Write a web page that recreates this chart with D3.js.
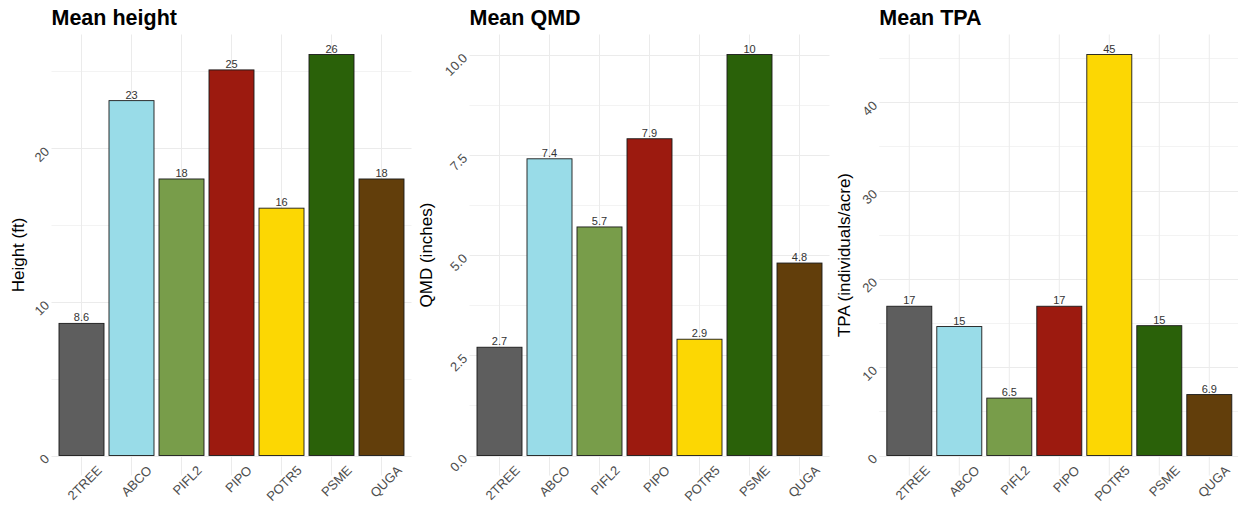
<!DOCTYPE html>
<html>
<head>
<meta charset="utf-8">
<script src="https://cdn.jsdelivr.net/npm/d3@7"></script>
<style>
  html, body { margin: 0; padding: 0; background: #fff; }
  svg { display: block; font-family: "Liberation Sans", Arial, sans-serif; }
</style>
</head>
<body>
<svg id="chart" width="1238" height="505"></svg>
<script>
// ---- data ----
const categories = ["2TREE", "ABCO", "PIFL2", "PIPO", "POTR5", "PSME", "QUGA"];
const barColors = ["#5e5e5e", "#99dce8", "#789d4a", "#9c1a0f", "#fcd703", "#2a6109", "#623e0b"];

const heightValues = [8.6, 23.1, 18.0, 25.1, 16.1, 26.1, 18.0];
const qmdValues = [2.7, 7.4, 5.7, 7.9, 2.9, 10.0, 4.8];
const tpaValues = [16.9, 14.6, 6.5, 16.9, 45.4, 14.7, 6.9];

const heightTicks = [0, 10, 20];
const heightTickLabels = ["0", "10", "20"];
const qmdTicks = [0, 2.5, 5, 7.5, 10];
const qmdTickLabels = ["0.0", "2.5", "5.0", "7.5", "10.0"];
const tpaTicks = [0, 10, 20, 30, 40];
const tpaTickLabels = ["0", "10", "20", "30", "40"];

const titles = ["Mean height", "Mean QMD", "Mean TPA"];
const yTitles = ["Height (ft)", "QMD (inches)", "TPA (individuals/acre)"];

// ---- layout ----
const panels = [
  { left: 51.5,  values: heightValues, ticks: heightTicks, tickLabels: heightTickLabels, title: titles[0], yTitle: yTitles[0], yTitleX: 24 },
  { left: 469.5, values: qmdValues,    ticks: qmdTicks,    tickLabels: qmdTickLabels,    title: titles[1], yTitle: yTitles[1], yTitleX: 432 },
  { left: 879.3, values: tpaValues,    ticks: tpaTicks,    tickLabels: tpaTickLabels,    title: titles[2], yTitle: yTitles[2], yTitleX: 850 }
];
const panelWidth = 360;
const plotTop = 34.5;
const zeroY = 455.5;

const svg = d3.select("#chart");
const fmt = d3.format(".2r");

panels.forEach(p => {
  const g = svg.append("g");
  const M = d3.max(p.values);
  const bottom = zeroY + (zeroY - plotTop) * 0.05 / 1.05;
  const y = d3.scaleLinear().domain([-0.05 * M, 1.05 * M]).range([bottom, plotTop]);
  const x = d3.scaleBand().domain(categories)
    .range([p.left, p.left + panelWidth]).paddingInner(0.1).paddingOuter(0.15);
  const [dmin, dmax] = y.domain();

  // minor gridlines
  const step = p.ticks[1] - p.ticks[0];
  const minors = p.ticks.map(t => t + step / 2).filter(v => v > dmin && v < dmax);
  g.selectAll(".minor").data(minors).join("line")
    .attr("x1", p.left).attr("x2", p.left + panelWidth)
    .attr("y1", d => Math.round(y(d)) + 0.5).attr("y2", d => Math.round(y(d)) + 0.5)
    .attr("stroke", "#f3f3f3").attr("stroke-width", 1);
  // major horizontal gridlines
  g.selectAll(".major").data(p.ticks).join("line")
    .attr("x1", p.left).attr("x2", p.left + panelWidth)
    .attr("y1", d => Math.round(y(d)) + 0.5).attr("y2", d => Math.round(y(d)) + 0.5)
    .attr("stroke", "#ebebeb").attr("stroke-width", 1);
  // vertical gridlines
  g.selectAll(".vgrid").data(categories).join("line")
    .attr("x1", d => x(d) + x.bandwidth() / 2).attr("x2", d => x(d) + x.bandwidth() / 2)
    .attr("y1", plotTop).attr("y2", bottom)
    .attr("stroke", "#ebebeb").attr("stroke-width", 1);

  // bars
  g.selectAll(".bar").data(p.values).join("rect")
    .attr("x", (d, i) => x(categories[i]))
    .attr("width", x.bandwidth())
    .attr("y", d => y(d))
    .attr("height", d => y(0) - y(d))
    .attr("fill", (d, i) => barColors[i])
    .attr("stroke", "#1a1a1a").attr("stroke-width", 0.9);

  // value labels
  g.selectAll(".vlab").data(p.values).join("text")
    .attr("x", (d, i) => x(categories[i]) + x.bandwidth() / 2)
    .attr("y", d => y(d) - 2)
    .attr("text-anchor", "middle")
    .attr("font-size", 11).attr("fill", "#333")
    .text(d => fmt(d));

  // y tick labels
  g.selectAll(".ytl").data(p.ticks).join("text")
    .attr("transform", d => `translate(${p.left - 4.5},${y(d) + 1}) rotate(-45)`)
    .attr("text-anchor", "end").attr("dy", "0.35em")
    .attr("font-size", 13).attr("fill", "#4d4d4d")
    .text((d, i) => p.tickLabels[i]);

  // x tick labels
  g.selectAll(".xtl").data(categories).join("text")
    .attr("transform", d => `translate(${x(d) + x.bandwidth() / 2 + 18},${468}) rotate(-45)`)
    .attr("text-anchor", "end").attr("dy", "0.35em")
    .attr("font-size", 13).attr("fill", "#4d4d4d")
    .text(d => d);

  // y title
  g.append("text")
    .attr("transform", `translate(${p.yTitleX},${(plotTop + bottom) / 2}) rotate(-90)`)
    .attr("text-anchor", "middle")
    .attr("font-size", 17).attr("fill", "#000")
    .text(p.yTitle);

  // title
  g.append("text")
    .attr("x", p.left).attr("y", 25)
    .attr("font-size", 21.5).attr("font-weight", "bold").attr("fill", "#000")
    .text(p.title);
});
</script>
</body>
</html>
